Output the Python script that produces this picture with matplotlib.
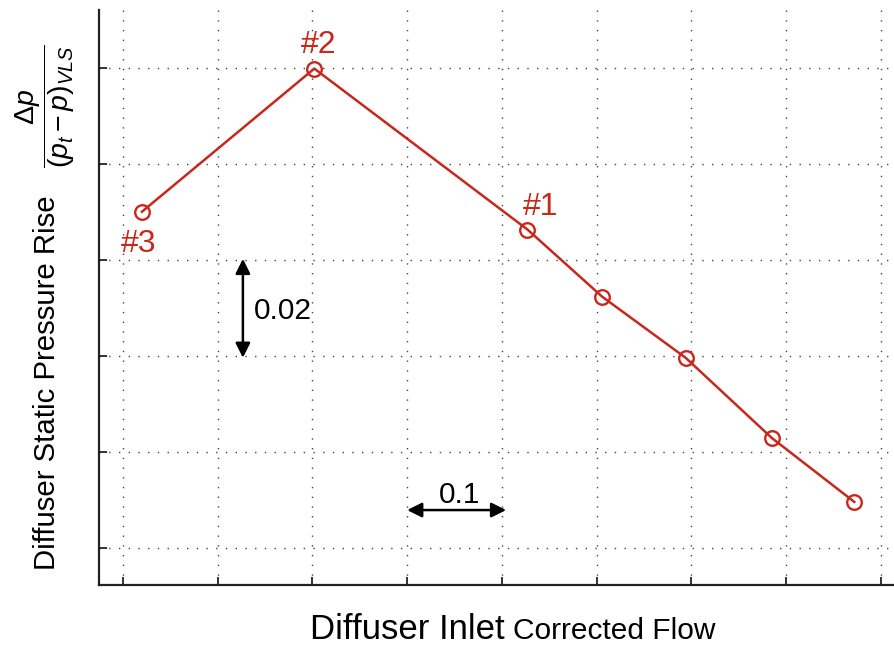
import matplotlib
matplotlib.use("Agg")
import matplotlib.pyplot as plt

plt.rcParams['font.family'] = ['Liberation Sans', 'DejaVu Sans']
plt.rcParams['mathtext.fontset'] = 'custom'
plt.rcParams['mathtext.rm'] = 'Liberation Sans'
plt.rcParams['mathtext.it'] = 'Liberation Sans:italic'
plt.rcParams['mathtext.bf'] = 'Liberation Sans:bold'

# Diffuser inlet corrected flow (relative) vs. static pressure rise coefficient
flow = [0.020, 0.202, 0.427, 0.506, 0.594, 0.685, 0.772]
pressure_rise = [0.0700, 0.0998, 0.0663, 0.0523, 0.0396, 0.0229, 0.0096]
point_labels = ["#3", "#2", "#1", "", "", "", ""]
label_offsets = [(-3, -32), (4, 24), (13, 23), (0, 0), (0, 0), (0, 0), (0, 0)]

x_grid = [0.0, 0.1, 0.2, 0.3, 0.4, 0.5, 0.6, 0.7, 0.8]
y_grid = [0.0, 0.02, 0.04, 0.06, 0.08, 0.10]

RED = '#c8281c'
W, H = 895, 648

fig = plt.figure(figsize=(W / 100, H / 100), dpi=100)
ax = fig.add_axes([99 / W, (H - 585) / H, (W - 99) / W, (585 - 10) / H])

ax.set_xlim(-0.0253, 0.815)
ax.set_ylim(-0.0077, 0.112)

ax.set_xticks(x_grid)
ax.set_yticks(y_grid)
ax.set_xticklabels([])
ax.set_yticklabels([])
ax.tick_params(direction='in', length=6, width=1.3, color='#222222')
ax.grid(True, color='#444444', linestyle=(0, (1, 6)), linewidth=1.0)

for side in ('top', 'right'):
    ax.spines[side].set_visible(False)
for side in ('left', 'bottom'):
    ax.spines[side].set_linewidth(1.6)
    ax.spines[side].set_color('#222222')

ax.plot(flow, pressure_rise, color=RED, linewidth=1.8, marker='o',
        markersize=10.5, markerfacecolor='none', markeredgecolor=RED,
        markeredgewidth=1.7, zorder=3)

for xv, yv, lab, (dx, dy) in zip(flow, pressure_rise, point_labels, label_offsets):
    if lab:
        ax.annotate(lab, (xv, yv), xytext=(dx * 0.72, dy * 0.72),
                    textcoords='offset points', ha='center', va='center',
                    color=RED, fontsize=23)

# scale bars
arrow_style = dict(arrowstyle='<|-|>', color='black', lw=1.8,
                   mutation_scale=22, shrinkA=0, shrinkB=0)
ax.annotate('', xy=(0.1266, 0.0602), xytext=(0.1266, 0.0396), arrowprops=arrow_style)
ax.text(0.1383, 0.0477, '0.02', fontsize=21.5, ha='left', va='baseline')
ax.annotate('', xy=(0.300, 0.0079), xytext=(0.4045, 0.0079), arrowprops=arrow_style)
ax.text(0.3555, 0.0094, '0.1', fontsize=21.5, ha='center', va='baseline')

# axis titles
fig.text(47 / W, 1 - 383 / H, 'Diffuser Static Pressure Rise', rotation=90,
         fontsize=21.2, ha='center', va='center')
fig.text(45 / W, 1 - 106 / H, r'$\dfrac{\Delta p}{(p_t - p)_{VLS}}$', rotation=90,
         fontsize=20.5, ha='center', va='center')
fig.text(505 / W, 1 - 639 / H, 'Diffuser Inlet', fontsize=25, ha='right', va='baseline')
fig.text(513 / W, 1 - 639 / H, 'Corrected Flow', fontsize=21.5, ha='left', va='baseline')

fig.savefig('out.png', dpi=100)
